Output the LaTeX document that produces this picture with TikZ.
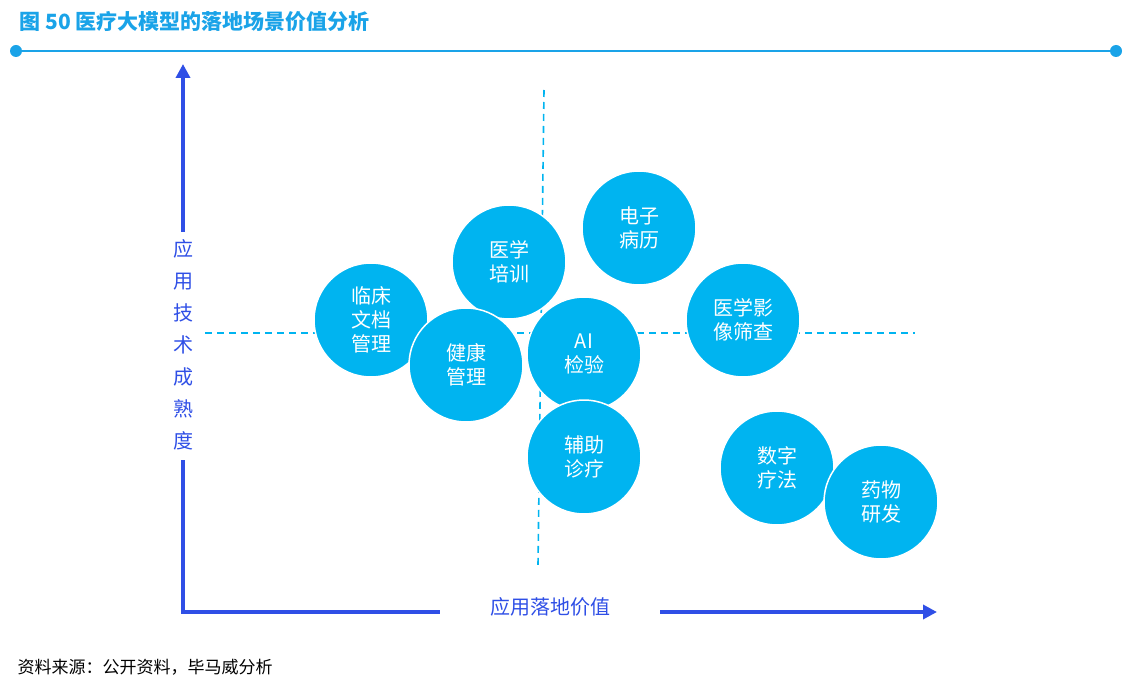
\documentclass[tikz,border=0pt]{standalone}
\usepackage{fontspec}
\setmainfont{Noto Sans CJK SC}
\usetikzlibrary{arrows.meta}
\definecolor{tblue}{HTML}{1AA3E8}
\definecolor{cfill}{HTML}{00B4F0}
\definecolor{ablue}{HTML}{2F4FE6}
\tikzset{bub/.style={circle,fill=cfill,draw=white,line width=1.5pt,minimum size=114pt,inner sep=0pt,text=white,align=center,font=\fontsize{20}{24}\selectfont},
dsh/.style={cfill,line width=1.6pt,dash pattern=on 7pt off 5pt},
ax/.style={ablue,line width=4pt},
lab/.style={text=ablue,font=\fontsize{20}{32}\selectfont,align=center}}
\begin{document}
\begin{tikzpicture}[x=1pt,y=-1pt]
\useasboundingbox (0,0) rectangle (1125,687);
\node[anchor=west,text=tblue,font=\bfseries\fontsize{21}{24}\selectfont] (title) at (16,22) {图 50 医疗大模型的落地场景价值分析};
\coordinate (l1) at (16,51); \coordinate (l2) at (1116,51);
\draw[tblue,line width=1.5pt] (l1) -- (l2);
\fill[tblue] (l1) circle (6) (l2) circle (6);
\coordinate (v1) at (544,90); \coordinate (v2) at (538,565);
\coordinate (h1) at (205,333); \coordinate (h2) at (915,333);
\draw[dsh] (v1) -- (v2); \draw[dsh] (h1) -- (h2);
\coordinate (o) at (183,612); \coordinate (yt) at (183,64); \coordinate (xt) at (937,612);
\coordinate (yg1) at (183,460); \coordinate (yg2) at (183,232);
\coordinate (xg1) at (440,612); \coordinate (xg2) at (660,612);
\draw[ax] (yg1) -- (o) -- (xg1);
\draw[ax,-{Triangle[length=14pt,width=14pt]}] (yg2) -- (yt);
\draw[ax,-{Triangle[length=14pt,width=14pt]}] (xg2) -- (xt);
\node[lab] (ylab) at (183,345) {应\\用\\技\\术\\成\\熟\\度};
\node[lab] (xlab) at (550,607) {应用落地价值};
\node[bub] (a) at (371,320) {临床\\文档\\管理};
\node[bub] (b) at (509,262) {医学\\培训};
\node[bub] (c) at (466,365) {健康\\管理};
\node[bub] (d) at (584,354) {AI\\检验};
\node[bub] (e) at (639,228) {电子\\病历};
\node[bub] (f) at (743,320) {医学影\\像筛查};
\node[bub] (g) at (584,457) {辅助\\诊疗};
\node[bub] (h) at (777,468) {数字\\疗法};
\node[bub] (i) at (881,502) {药物\\研发};
\node[anchor=west,font=\fontsize{17}{20}\selectfont] (src) at (14,667) {资料来源：公开资料，毕马威分析};
\end{tikzpicture}
\end{document}
